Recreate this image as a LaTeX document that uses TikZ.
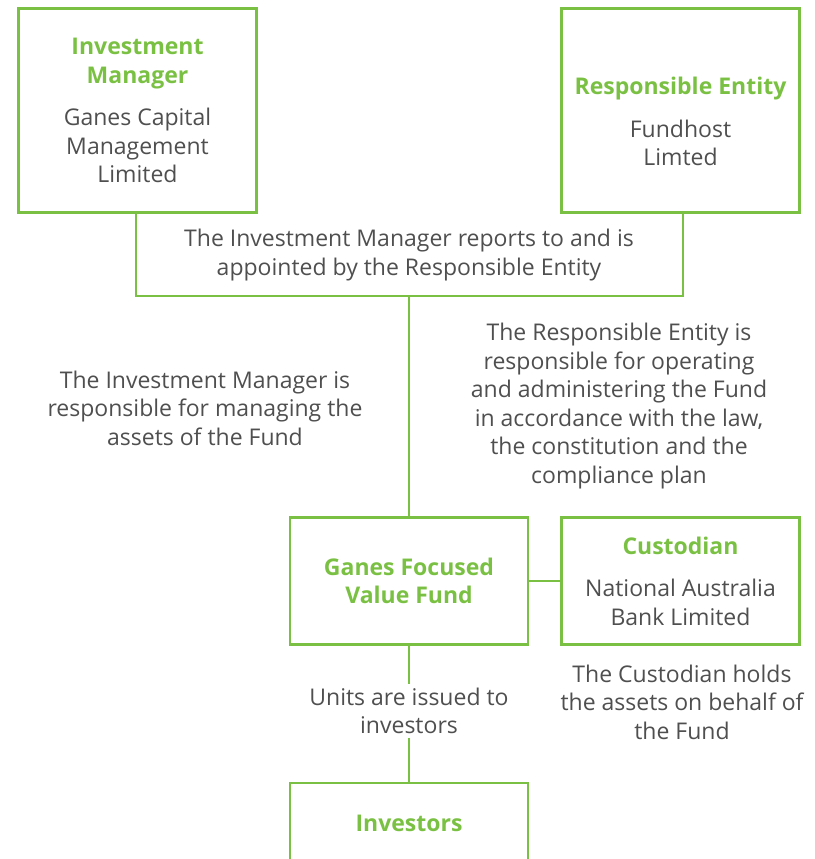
\documentclass[tikz,border=0pt]{standalone}
\usepackage{fontspec}
\setmainfont{Open Sans}
\usetikzlibrary{positioning}
\definecolor{boxgreen}{HTML}{7AC143}
\definecolor{textgrey}{HTML}{4F4F4F}
\newcommand{\orgtitle}[1]{{\bfseries\color{boxgreen}#1}}
\tikzset{
  orgbox/.style={draw=boxgreen, line width=2.5pt, minimum width=238pt, align=center,
    text=textgrey, font=\fontsize{23}{28.5}\selectfont},
  note/.style={align=center, text=textgrey, font=\fontsize{23}{28.5}\selectfont},
  link/.style={draw=boxgreen, line width=2.5pt}
}
\begin{document}
\begin{tikzpicture}[x=1pt, y=-1pt]
    \useasboundingbox (0,0) rectangle (814,859);
    \clip (0,0) rectangle (814,859);
    % top boxes
    \node[orgbox, minimum height=204pt] (manager) at (137.5,110.5) {\orgtitle{Investment}\\\orgtitle{Manager}\\[14pt]Ganes Capital\\Management\\Limited};
    \node[orgbox, minimum height=204pt] (entity) at (680.5,110.5) {\rule{0pt}{40pt}\orgtitle{Responsible Entity}\\[14pt]Fundhost\\Limted};
    \node[note] (reports) at (409,255) {The Investment Manager reports to and is\\appointed by the Responsible Entity};
    \coordinate (bl) at (136,296);
    \coordinate (br) at (683,296);
    \draw[link] (manager.south -| bl) -- (bl) -- (br) -- (entity.south -| br);
    % middle notes
    \node[note] (managing) at (205,408) {The Investment Manager is\\responsible for managing the\\assets of the Fund};
    \node[note] (operating) at (619,406) {The Responsible Entity is\\responsible for operating\\and administering the Fund\\in accordance with the law,\\the constitution and the\\compliance plan};
    % fund and custodian
    \node[orgbox, minimum height=127pt] (fund) at (409,581) {\orgtitle{Ganes Focused}\\\orgtitle{Value Fund}};
    \node[orgbox, minimum height=127pt] (custodian) at (680.5,581) {\orgtitle{Custodian}\\[14pt]National Australia\\Bank Limited};
    \draw[link] (fund.north) -- (fund.north |- br);
    \draw[link] (fund) -- (custodian);
    \node[note] (holds) at (682,702) {The Custodian holds\\the assets on behalf of\\the Fund};
    % investors
    \node[note] (units) at (409,711) {Units are issued to\\investors};
    \node[orgbox, minimum height=80pt] (investors) at (409,823) {\orgtitle{Investors}};
    \draw[link] (fund.south) -- (units.north);
    \draw[link] (units.south) -- (investors.north);
\end{tikzpicture}
\end{document}
